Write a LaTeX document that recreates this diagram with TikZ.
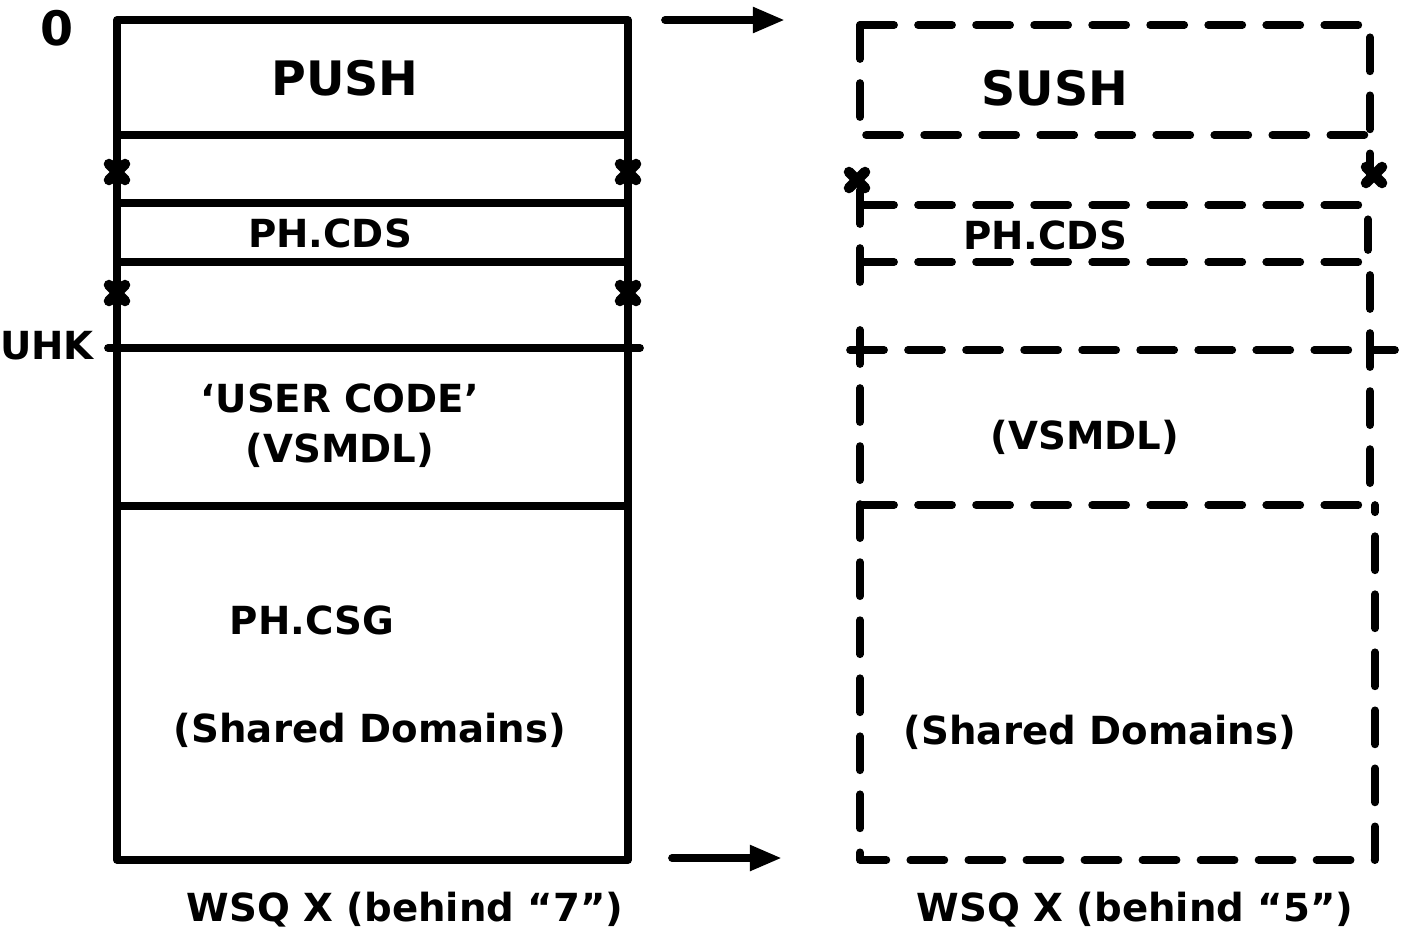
\documentclass[tikz,border=0pt]{standalone}
\usepackage{fontspec}
\setmainfont{DejaVu Sans}
\usetikzlibrary{arrows.meta}
\begin{document}
\begin{tikzpicture}[x=0.01cm,y=-0.01cm,line cap=round,line join=round,
  solidline/.style={line width=2.2pt},
  dashline/.style={line width=2.2pt,dash pattern=on 0.34cm off 0.24cm},
  lbl/.style={font=\bfseries\fontsize{11}{13}\selectfont,inner sep=0pt},
  big/.style={font=\bfseries\fontsize{13.5}{15}\selectfont,inner sep=0pt},
  arr/.style={-{Triangle[length=0.32cm,width=0.24cm]},line width=2.2pt},
  xm/.pic={\draw[line width=3pt] (-8,-8)--(8,8) (-8,8)--(8,-8);}]
\useasboundingbox (0,0) rectangle (1401,939);

% ---------- left solid column ----------
\draw[solidline] (117,20) rectangle (628,860);
\draw[solidline] (117,135) -- (628,135);
\draw[solidline] (117,203) -- (628,203);
\draw[solidline] (117,262) -- (628,262);
\draw[solidline] (108,348) -- (640,348);
\draw[solidline] (117,506) -- (628,506);
\pic at (117,172) {xm};
\pic at (628,172) {xm};
\pic at (117,293) {xm};
\pic at (628,293) {xm};

\node[big] (zero) at (57,28) {0};
\node[lbl] (uhk) at (47,346) {UHK};
\node[big] (push) at (345,78) {PUSH};
\node[lbl] (cdsL) at (330,233) {PH.CDS};
\node[lbl] (userL) at (340,398) {‘USER CODE’};
\node[lbl] (vsmdlL) at (340,450) {(VSMDL)};
\node[lbl] (csg) at (312,620) {PH.CSG};
\node[lbl] (sharedL) at (370,730) {(Shared Domains)};
\node[lbl] (capL) at (405,910) {WSQ X (behind “7”)};

% ---------- right dashed column ----------
\draw[dashline] (860,25) -- (1370,25) -- (1370,175);
\draw[dashline] (860,25) -- (860,135) -- (1370,135);
\draw[dashline] (860,205) -- (1368,205) -- (1368,250);
\draw[dashline] (860,190) -- (860,290);
\draw[dashline] (860,262) -- (1365,262);
\draw[dashline] (850,350) -- (1395,350);
\draw[dashline] (1370,275) -- (1370,505);
\draw[dashline] (860,330) -- (860,860) -- (1375,860) -- (1375,505);
\draw[dashline] (860,505) -- (1372,505);
\pic at (857,180) {xm};
\pic at (1374,175) {xm};

\node[big] (sush) at (1055,88) {SUSH};
\node[lbl] (cdsR) at (1045,235) {PH.CDS};
\node[lbl] (vsmdlR) at (1085,437) {(VSMDL)};
\node[lbl] (sharedR) at (1100,732) {(Shared Domains)};
\node[lbl] (capR) at (1135,910) {WSQ X (behind “5”)};

% ---------- arrows ----------
\coordinate (a1s) at (665,20);
\coordinate (a1e) at (785,20);
\coordinate (a2s) at (672,858);
\coordinate (a2e) at (782,858);
\draw[arr] (a1s) -- (a1e);
\draw[arr] (a2s) -- (a2e);
\end{tikzpicture}
\end{document}
